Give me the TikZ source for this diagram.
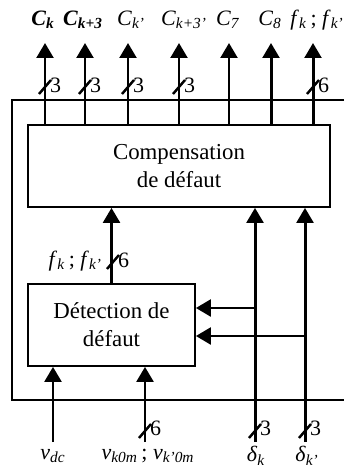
\documentclass[tikz,border=0pt]{standalone}
\usepackage{fontspec}
\setmainfont{Liberation Serif}
\usetikzlibrary{arrows.meta}
\newcommand{\vr}[2]{\textit{#1}\textsubscript{\textit{#2}}}
\newcommand{\bvr}[2]{{\bfseries\itshape #1\textsubscript{#2}}}

\begin{document}
\begin{tikzpicture}[x=0.02cm,y=-0.02cm,
  blk/.style={draw,line width=1pt,align=center,minimum height=1.64cm,
              font=\fontsize{13}{16}\selectfont},
  wire/.style={line width=1.7pt,-{Triangle[length=8.5pt,width=9.5pt]}},
  frame/.style={line width=1pt},
  slash/.style={line width=1.4pt},
  lbl/.style={font=\fontsize{12.5}{14}\selectfont,inner sep=1pt}]
\useasboundingbox (0,0) rectangle (344,472);

\node[blk,minimum width=6.04cm] (comp) at (179,166) {Compensation\\ de défaut};
\node[blk,minimum width=3.34cm] (det) at (111.5,325) {Détection de\\ défaut};

\draw[frame] (344,100) -- (12,100) -- (12,400) -- (344,400);

\foreach \x/\n in {45/1,85/2,128/3,179/4,229/5,271/6,313/7}
  \coordinate (out\n) at (\x,43);
\foreach \n in {1,...,7}
  \draw[wire] (comp.north -| out\n) -- (out\n);

\node[lbl] (lck)   at (43,20)  {\bvr{C}{k}};
\node[lbl] (lck3)  at (83,20)  {\bvr{C}{k+3}};
\node[lbl] (lckp)  at (131,20) {\vr{C}{k'}};
\node[lbl] (lck3p) at (184,20) {\vr{C}{k+3'}};
\node[lbl] (lc7)   at (228,20) {\vr{C}{7}};
\node[lbl] (lc8)   at (270,20) {\vr{C}{8}};
\node[lbl] (lfo)   at (317,20) {\vr{f}{k}\,; \vr{f}{k'}};

\foreach \x/\b in {45/3,85/3,128/3,179/3,313/6}{
  \draw[slash] (\x,87) +(-6,7) -- +(6,-7);
  \node[lbl,right] at (\x+3,85) {\b};
}

\coordinate (dk) at (255,442);
\coordinate (dkp) at (305,442);
\coordinate (j1) at (255,308);
\coordinate (j2) at (305,336);
\coordinate (vdc) at (53,442);
\coordinate (vk) at (145,442);

\draw[wire] (det.north) -- (comp.south -| det.north);
\draw[wire] (dk) -- (comp.south -| dk);
\draw[wire] (dkp) -- (comp.south -| dkp);
\draw[wire] (j1) -- (det.east |- j1);
\draw[wire] (j2) -- (det.east |- j2);
\draw[wire] (vdc) -- (det.south -| vdc);
\draw[wire] (vk) -- (det.south -| vk);

\draw[slash] (113,262) +(-6,7) -- +(6,-7);
\node[lbl,right] at (116,260) {6};
\node[lbl,left] (lfi) at (104,261) {\vr{f}{k}\,; \vr{f}{k'}};

\foreach \x/\b in {145/6,255/3,305/3}{
  \draw[slash] (\x,431) +(-6,7) -- +(6,-7);
  \node[lbl,right] at (\x+3,428) {\b};
}

\node[lbl] (lvdc) at (53,456)  {\vr{v}{dc}};
\node[lbl] (lvk)  at (148,456) {\vr{v}{k0m}\,; \vr{v}{k'0m}};
\node[lbl] (ldk)  at (256,456) {\vr{δ}{k}};
\node[lbl] (ldkp) at (307,456) {\vr{δ}{k'}};
\end{tikzpicture}
\end{document}
